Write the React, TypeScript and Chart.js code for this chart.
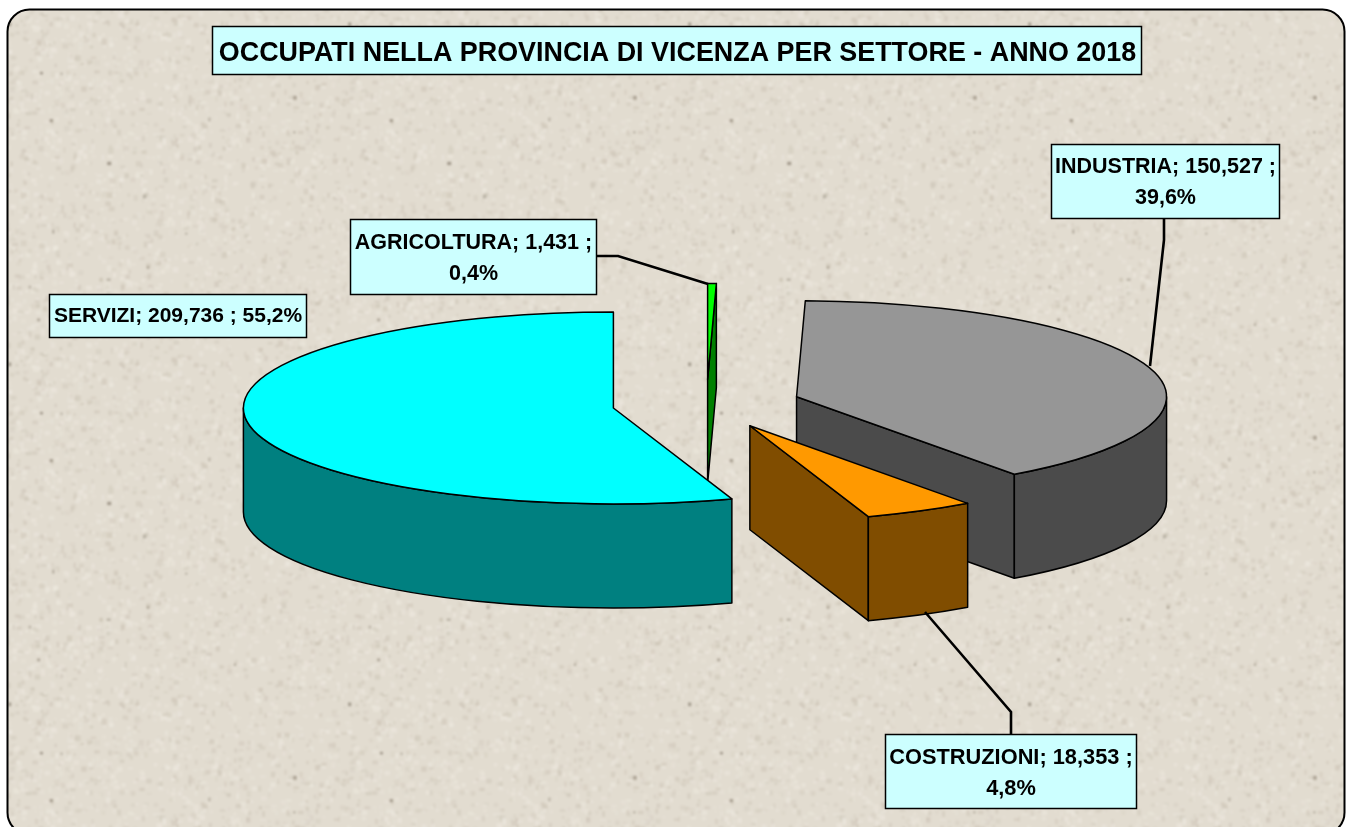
import React, { useEffect, useRef } from "react";
import { Chart, registerables } from "chart.js";

Chart.register(...registerables);

const categories = ["AGRICOLTURA", "INDUSTRIA", "COSTRUZIONI", "SERVIZI"];
const occupati = [1431, 150527, 18353, 209736];
const valueTexts = ["1,431", "150,527", "18,353", "209,736"];
const percentTexts = ["0,4%", "39,6%", "4,8%", "55,2%"];
const topColors = ["#00FF00", "#969696", "#FF9900", "#00FFFF"];
const wallColors = ["#008000", "#4B4B4B", "#804D00", "#008080"];
const titleText = "OCCUPATI NELLA PROVINCIA DI VICENZA PER SETTORE - ANNO 2018";

const W = 1346;
const H = 827;
const CENTER = { x: 706.5, y: 404 };
const RADIUS = 370;
const TILT = 96 / 370;
const DEPTH = 104;
const EXPLODE = 0.255;
const DRAW_ORDER = [0, 1, 3, 2];
const FONT = '"Liberation Sans", Arial, sans-serif';

type Box = { x: number; y: number; w: number; h: number; size: number; lines: string[]; leader?: number[][] };

const labelBoxes: Box[] = [
  { x: 350, y: 219, w: 246, h: 75, size: 21.5, lines: [`${categories[0]}; ${valueTexts[0]} ;`, percentTexts[0]],
    leader: [[596, 256], [618, 256], [708, 284]] },
  { x: 1051, y: 144, w: 228, h: 74, size: 21.5, lines: [`${categories[1]}; ${valueTexts[1]} ;`, percentTexts[1]],
    leader: [[1164, 218], [1164, 240], [1150, 366]] },
  { x: 885, y: 734, w: 251, h: 74, size: 21.8, lines: [`${categories[2]}; ${valueTexts[2]} ;`, percentTexts[2]],
    leader: [[1011, 734], [1011, 712], [925, 612]] },
  { x: 49, y: 294, w: 257, h: 43, size: 21, lines: [`${categories[3]}; ${valueTexts[3]} ; ${percentTexts[3]}`] },
];

function makeTexture(): HTMLCanvasElement {
  const size = 340;
  const raw = document.createElement("canvas");
  raw.width = raw.height = size;
  const c = raw.getContext("2d")!;
  c.fillStyle = "#E2DCD0";
  c.fillRect(0, 0, size, size);
  let seed = 20180;
  const rnd = () => {
    seed = (seed * 1664525 + 1013904223) % 4294967296;
    return seed / 4294967296;
  };
  for (let i = 0; i < 2400; i++) {
    const light = rnd() > 0.45;
    c.fillStyle = light ? `rgba(238,233,224,${0.2 + rnd() * 0.35})` : `rgba(198,189,174,${0.12 + rnd() * 0.32})`;
    c.fillRect(rnd() * size, rnd() * size, 2 + rnd() * 4, 2 + rnd() * 4);
  }
  for (let i = 0; i < 16; i++) {
    c.fillStyle = `rgba(130,120,105,${0.3 + rnd() * 0.35})`;
    c.fillRect(rnd() * size, rnd() * size, 2 + rnd() * 2, 2 + rnd() * 2);
  }
  const wide = document.createElement("canvas");
  wide.width = wide.height = size * 3;
  const w = wide.getContext("2d")!;
  for (let dx = 0; dx < 3; dx++) {
    for (let dy = 0; dy < 3; dy++) w.drawImage(raw, dx * size, dy * size);
  }
  const out = document.createElement("canvas");
  out.width = out.height = size;
  const o = out.getContext("2d")!;
  o.filter = "blur(1px)";
  o.drawImage(wide, -size, -size);
  return out;
}

function roundedFrame(c: CanvasRenderingContext2D) {
  c.beginPath();
  c.roundRect(7.5, 9.5, 1337, 825, 22);
}

const pie3d = {
  id: "pie3d",
  beforeDraw(chart: any) {
    const c: CanvasRenderingContext2D = chart.ctx;
    c.save();
    c.fillStyle = "#FFFFFF";
    c.fillRect(0, 0, W, H);
    roundedFrame(c);
    c.fillStyle = c.createPattern(makeTexture(), "repeat")!;
    c.fill();
    c.lineWidth = 2;
    c.strokeStyle = "#000000";
    c.stroke();
    c.restore();
  },
  beforeDatasetsDraw(chart: any) {
    const c: CanvasRenderingContext2D = chart.ctx;
    const arcs = chart.getDatasetMeta(0).data;
    c.save();
    c.lineWidth = 1.5;
    c.lineJoin = "round";
    c.strokeStyle = "#000000";
    for (const i of DRAW_ORDER) {
      const arc = arcs[i];
      const a0: number = arc.startAngle;
      const a1: number = arc.endAngle;
      const rx: number = arc.outerRadius;
      const ry = rx * TILT;
      const mid = (a0 + a1) / 2;
      const ax = arc.x + Math.cos(mid) * EXPLODE * rx;
      const ay = arc.y + Math.sin(mid) * EXPLODE * ry;
      const rimPoint = (a: number) => [ax + Math.cos(a) * rx, ay + Math.sin(a) * ry];

      c.fillStyle = wallColors[i];
      const cutFace = (a: number) => {
        const [px, py] = rimPoint(a);
        c.beginPath();
        c.moveTo(ax, ay);
        c.lineTo(px, py);
        c.lineTo(px, py + DEPTH);
        c.lineTo(ax, ay + DEPTH);
        c.closePath();
        c.fill();
        c.stroke();
      };
      if (Math.cos(a0) < 0) cutFace(a0);
      if (Math.cos(a1) > 0) cutFace(a1);

      const from = Math.max(a0, 0);
      const to = Math.min(a1, Math.PI);
      if (to > from) {
        c.beginPath();
        c.ellipse(ax, ay, rx, ry, 0, from, to);
        c.ellipse(ax, ay + DEPTH, rx, ry, 0, to, from, true);
        c.closePath();
        c.fill();
        c.stroke();
      }

      c.fillStyle = topColors[i];
      c.beginPath();
      c.moveTo(ax, ay);
      c.ellipse(ax, ay, rx, ry, 0, a0, a1);
      c.closePath();
      c.fill();
      c.stroke();
    }
    c.restore();
    return false;
  },
  afterDraw(chart: any) {
    const c: CanvasRenderingContext2D = chart.ctx;
    c.save();
    c.textAlign = "center";
    c.textBaseline = "middle";
    c.strokeStyle = "#000000";
    c.lineJoin = "miter";
    c.lineWidth = 2.6;
    for (const b of labelBoxes) {
      if (b.leader) {
        c.beginPath();
        b.leader.forEach(([x, y], k) => (k ? c.lineTo(x, y) : c.moveTo(x, y)));
        c.stroke();
      }
    }
    const drawBox = (x: number, y: number, w: number, h: number) => {
      c.fillStyle = "#CCFFFF";
      c.fillRect(x, y, w, h);
      c.lineWidth = 1.5;
      c.strokeRect(x, y, w, h);
      c.fillStyle = "#000000";
    };
    for (const b of labelBoxes) {
      drawBox(b.x + 0.5, b.y + 0.5, b.w, b.h);
      c.font = `bold ${b.size}px ${FONT}`;
      const step = 31;
      const shift = b.lines.length > 1 ? 2 : 1;
      const y0 = b.y + b.h / 2 + shift - ((b.lines.length - 1) * step) / 2;
      b.lines.forEach((t, k) => c.fillText(t, b.x + b.w / 2 + 0.5, y0 + k * step));
    }
    drawBox(212.5, 26.5, 929, 48);
    c.font = `bold 26.9px ${FONT}`;
    c.fillText(titleText, 677.5, 54);
    c.restore();
  },
};

export default function App() {
  const ref = useRef<HTMLCanvasElement>(null);
  useEffect(() => {
    const chart = new Chart(ref.current!, {
      type: "pie",
      plugins: [pie3d],
      data: {
        labels: categories,
        datasets: [{ data: occupati, backgroundColor: topColors, borderColor: "#000000", borderWidth: 1 }],
      },
      options: {
        responsive: false,
        animation: false,
        radius: RADIUS,
        layout: {
          padding: {
            left: Math.max(0, 2 * CENTER.x - W),
            right: Math.max(0, W - 2 * CENTER.x),
            top: Math.max(0, 2 * CENTER.y - H),
            bottom: Math.max(0, H - 2 * CENTER.y),
          },
        },
        plugins: { legend: { display: false }, tooltip: { enabled: false }, title: { display: false } },
      } as any,
    });
    return () => chart.destroy();
  }, []);
  return (
    <div style={{ position: "absolute", left: 0, top: 0, width: W, height: H, overflow: "hidden" }}>
      <canvas ref={ref} width={W} height={H} style={{ display: "block" }} />
    </div>
  );
}
